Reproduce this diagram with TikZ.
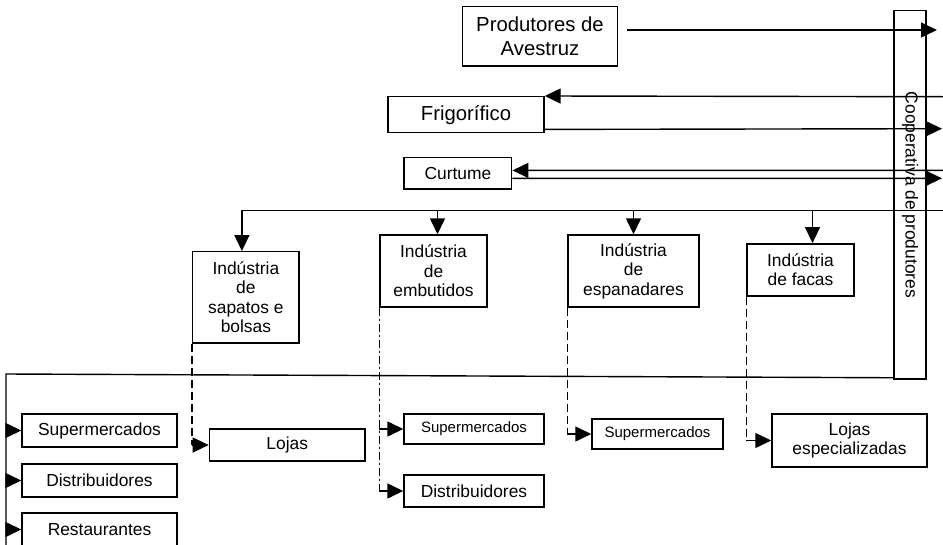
\documentclass[tikz,border=0pt]{standalone}
\usepackage{fontspec}
\setmainfont{Liberation Sans}
\usetikzlibrary{arrows.meta}
\tikzset{
    caixa/.style={draw, line width=1.4pt, align=center, inner sep=0pt, font=\fontsize{17.4pt}{19.5pt}\selectfont},
    grande/.style={font=\fontsize{20.3pt}{23.5pt}\selectfont},
    pequena/.style={font=\fontsize{15pt}{17pt}\selectfont},
    seta/.style={line width=1.4pt, -{Triangle[length=16pt,width=15pt]}},
    linha/.style={line width=1.4pt},
    tracejado/.style={line width=1.4pt, dash pattern=on 8pt off 4pt},
    tracoponto/.style={line width=1.4pt, dash pattern=on 8pt off 3pt on 2pt off 3pt}
}
\begin{document}
\begin{tikzpicture}[x=1pt, y=-1pt]
                \useasboundingbox (0,0) rectangle (943,544);
                \clip (0,0) rectangle (943,544);
                \node[caixa, grande, minimum width=155.4pt, minimum height=59.3pt] (prod) at (540,36.3) {Produtores de\\Avestruz};
                \node[caixa, grande, minimum width=156pt, minimum height=36pt] (frig) at (466,114.7) {Frigorífico};
                \node[caixa, minimum width=107.7pt, minimum height=31.3pt] (curt) at (457.9,173.4) {Curtume};
                \node[caixa, minimum width=32pt, minimum height=368.3pt] (coop) at (910,194.9) {};
                \node[caixa, draw=none, rotate=-90] (cooptxt) at (coop.center) {Cooperativa de produtores};
                \node[caixa, minimum width=106.3pt, minimum height=91.3pt] (sap) at (245.9,297.4) {Indústria\\de\\sapatos e\\bolsas};
                \node[caixa, minimum width=107pt, minimum height=72pt] (emb) at (433.5,271) {Indústria\\de\\embutidos};
                \node[caixa, minimum width=131pt, minimum height=72pt] (esp) at (633.5,271) {Indústria\\de\\espanadares};
                \node[caixa, minimum width=107pt, minimum height=52pt] (fac) at (800.5,269.8) {Indústria\\de facas};
                \node[caixa, minimum width=155pt, minimum height=33pt] (sup1) at (99.5,430.5) {Supermercados};
                \node[caixa, minimum width=155pt, minimum height=33pt] (dis1) at (99.5,480.5) {Distribuidores};
                \node[caixa, minimum width=155pt, minimum height=33pt] (res1) at (99.5,529.5) {Restaurantes};
                \node[caixa, minimum width=155.7pt, minimum height=32pt] (lojas) at (287.2,445) {Lojas};
                \node[caixa, pequena, minimum width=140pt, minimum height=30pt] (sup2) at (474,429) {Supermercados};
                \node[caixa, minimum width=140pt, minimum height=32pt] (dis2) at (474,491) {Distribuidores};
                \node[caixa, pequena, minimum width=131pt, minimum height=30pt] (sup3) at (657.5,434) {Supermercados};
                \node[caixa, minimum width=155pt, minimum height=53pt] (lojesp) at (849.5,440.5) {Lojas\\especializadas};
                \coordinate (pfim) at (937,30);
                \coordinate (borda1) at (943,96.7);
                \coordinate (borda2) at (942,128.7);
                \coordinate (borda3) at (943,170.3);
                \coordinate (borda4) at (942,178.3);
                \coordinate (borda5) at (943,210.7);
                \coordinate (canto) at (6,374);
                \coordinate (fundo) at (6,560);
                \draw[seta] ([xshift=9pt]prod.east |- pfim) -- (pfim);
                \draw[seta] (borda1) -- (frig.north east);
                \draw[seta] ([yshift=4pt]frig.south east) -- (borda2);
                \draw[seta] (borda3) -- ([yshift=3pt]curt.east);
                \draw[seta] ([yshift=-5pt]curt.east) -- (borda4);
                \draw[seta] (borda5) -| ([xshift=-4pt]sap.north);
                \draw[seta] ([xshift=4pt]emb.north |- borda5) -- ([xshift=4pt]emb.north);
                \draw[seta] (esp.north |- borda5) -- (esp.north);
                \draw[seta] ([xshift=12pt]fac.north |- borda5) -- ([xshift=12pt]fac.north);
                \draw[linha] ([yshift=2pt]coop.south west) -- (canto) -- (fundo);
                \draw[seta] (sup1.west -| canto) -- (sup1.west);
                \draw[seta] (dis1.west -| canto) -- (dis1.west);
                \draw[seta] (res1.west -| canto) -- (res1.west);
                \draw[tracejado] (sap.south west) -- (sap.south west |- lojas.west);
                \draw[seta] (sap.south west |- lojas.west) -- (lojas.west);
                \draw[tracoponto] (emb.south west) -- (emb.south west |- dis2.west);
                \draw[seta] (emb.south west |- sup2.west) -- (sup2.west);
                \draw[seta] (emb.south west |- dis2.west) -- (dis2.west);
                \draw[tracejado] (esp.south west) -- (esp.south west |- sup3.west);
                \draw[seta] (esp.south west |- sup3.west) -- (sup3.west);
                \draw[tracejado] (fac.south west) -- (fac.south west |- lojesp.west);
                \draw[seta] (fac.south west |- lojesp.west) -- (lojesp.west);
            \end{tikzpicture}
\end{document}
